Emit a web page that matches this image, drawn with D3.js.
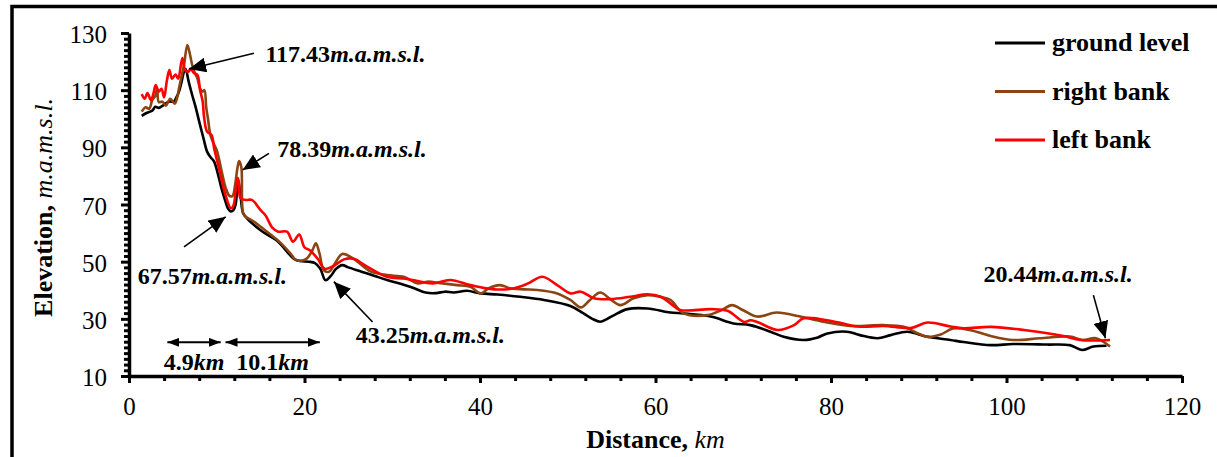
<!DOCTYPE html>
<html><head><meta charset="utf-8">
<script src="https://cdn.jsdelivr.net/npm/d3@7"></script>
<style>
body{margin:0;background:#fff}
svg{display:block}
text{font-family:"Liberation Serif","Times New Roman",serif;fill:#000}
</style>
</head><body>
<svg id="chart" width="1217" height="457"></svg>
<script>
// ---------------- data ----------------
const groundKm   = [1.45,2.0,2.4,2.7,3.0,3.4,3.8,4.2,4.6,5.1,5.4,5.7,6.0,6.27,6.45,6.8,7.2,7.6,8.0,8.5,8.9,9.3,9.7,10.25,10.6,11.0,11.3,11.6,11.9,12.15,12.45,12.75,13.0,13.5,14.0,15.0,16.0,17.0,18.0,18.8,19.5,20.5,21.2,21.8,22.4,23.0,23.6,24.3,25.0,26.5,28.0,29.5,31.3,32.5,33.8,35,36,37,38.5,40.1,42,44.6,47.3,50.3,51.8,52.8,53.7,54.5,55.3,56.8,59.1,61.7,63.2,66.3,68.9,70.8,73.1,74.6,76.9,78.5,79.6,81.8,83.3,85.3,86.8,88.7,91,93.6,95.1,98.2,100.8,104.6,107.2,108.6,109.9,111.4];
const groundElev = [101,102,102.5,103,104.2,103.8,104.5,105.4,106,106,107.5,109.5,113,116.5,117.4,113,108.3,104,99,93,88.5,86.5,85,79.2,75,71,68.5,67.6,68,70,78.4,72,67,65,63.5,61,59,57,53.5,51,50.2,50,49.5,47.5,43.5,45,47.5,48.8,48,46.5,45,43.5,41.9,40.7,39.2,39,39.5,39.2,39.8,38.9,38.5,37.7,36.6,34.5,31.9,30,29.0,30,31.3,33.4,33.6,32.2,31.9,30.8,28.4,27.8,25.5,23.7,22.6,23.5,24.9,25.5,24.3,23.2,24.3,25.5,23.7,22.6,21.9,20.8,21.2,21,20.8,19.1,20.3,20.6];

const rightKm    = [1.45,1.9,2.3,2.66,3.0,3.2,3.4,3.8,4.2,4.7,5.2,5.5,5.7,6.0,6.27,6.65,6.95,7.2,7.5,7.8,8.1,8.4,8.6,8.8,9.0,9.3,9.7,10.0,10.25,10.6,11.0,11.45,11.8,12.1,12.35,12.55,12.8,13.0,13.3,14.0,15.5,17.3,18.5,19.0,19.6,20.3,20.9,21.3,21.7,22.2,22.8,23.5,24.3,25.6,27.5,29.4,31.3,32.9,34,35.5,37.4,38.9,40.1,41,42.3,43.4,45,46.5,48.8,50.3,51.5,52.5,53.7,54.8,56,57.5,59.1,60.5,61.7,63.2,65.9,67.5,68.7,70,71.6,73.8,76.5,79.1,82.2,86,88.3,89.5,91,92.5,93.9,95.8,98.2,100.8,103.8,107.2,108.7,110.2,111.8];
const rightElev  = [102.5,104,103.5,106.6,108,110.5,105.8,106,104.6,107,105.3,107.5,110.7,115,118.8,125.8,122.5,118.8,116,114.1,110.5,109.5,110,104,100,94,91,89,86,81,76,73,73,77,82.6,85.2,83,67,65.7,64.5,61,56.5,52.5,50.6,50.3,51.2,54,56.4,53,47,46.5,49.5,52.7,51,46.6,45.3,44.7,42.4,43,42.5,41.8,41.2,38.9,40.7,41.8,40.7,40.3,40.1,38.9,36.6,34,36.5,39.2,37,34.8,37.2,38.3,37.7,36.6,31.9,31.3,33,34.8,33,30.8,32.2,30.8,29,27.5,27.8,27.2,25.5,23.7,24.5,26.6,26.1,24,22.6,23.2,23.8,22.6,23.2,20.3];

const leftKm     = [1.45,1.8,2.1,2.5,2.8,3.04,3.4,3.7,4.0,4.3,4.6,4.9,5.3,5.6,6.08,6.4,6.8,7.0,7.4,7.8,8.1,8.4,8.55,8.9,9.4,9.7,10.25,10.6,11.0,11.6,11.9,12.2,12.4,12.55,12.7,13.3,14.0,15.0,15.6,16.3,17,18,18.7,19.4,20,20.6,21.5,22.3,23.3,24.5,25.6,27.0,29.4,31.3,32.5,34.6,36.6,38.9,41.6,43.9,45.5,47.1,48.8,50.3,51.5,53,54.9,57.1,59.1,60.6,61.7,62.8,66.3,68.2,70.1,70.8,71.6,73.9,75.8,76.9,80.4,83.1,86,89.1,91,93.6,95.1,98.2,102,106.5,108.4,111.8];
const leftElev   = [108.6,107,109,106.5,109,111.8,109.5,110.5,107.5,113,117,114,115.5,114,121.2,117,116.5,117.6,116,115.3,110,106,100.7,95.5,94.3,89.7,82.7,78,73.3,68.7,69.6,76,79.3,77,72.2,71.6,71.6,68,66,62,60.5,60.5,57,59.5,55,54,51,47.5,48.5,50.8,51,48.5,44.7,44.1,43.5,42.4,43.6,41.8,40.3,40.7,42.4,44.7,41.8,38.9,39.5,37.2,36.9,37.7,38.6,37.7,35.4,33.1,33.4,32.8,28.9,29.5,28.9,26.1,27.8,30.2,29,27.3,27.5,26.8,28.7,27.3,26.7,27.2,26.1,24,22.6,22.6];

const seriesNames  = ["ground level","right bank","left bank"];
const seriesColors = ["#000000","#8B4513","#FF0000"];

const xMajorTicks = [0,20,40,60,80,100,120];
const yMajorTicks = [10,30,50,70,90,110,130];

// annotation values (data coordinates: km, m)
const annValues = ["117.43","78.39","67.57","43.25","20.44"];
const annTips   = [[6.84,117.4],[12.95,82.1],[11.02,65.7],[23.35,43.0],[111.27,23.2]];
const annTails  = [[14.24,122.9],[15.95,87.9],[6.27,55.2],[27.76,28.9],[109.9,38.3]];
const annText   = [[15.55,119.9],[16.9,86.6],[0.99,42.2],[25.83,21.5],[97.37,43.0]];
const annUnit   = "m.a.m.s.l.";

const spanLabels = ["4.9","10.1"];
const spanFrom   = [4.37,11.0];
const spanTo     = [10.45,21.75];
const spanArrowY = 21.8;
const spanTextY  = 12.1;

// ---------------- drawing ----------------
const svg = d3.select("#chart");
const x = d3.scaleLinear().domain([0,120]).range([129,1182]);
const y = d3.scaleLinear().domain([10,130]).range([376,33]);

// outer frame
svg.append("rect").attr("x",12).attr("y",6.5).attr("width",3000).attr("height",3000)
  .attr("fill","none").attr("stroke","#000").attr("stroke-width",3.5);

const defs = svg.append("defs");
defs.append("marker").attr("id","ah").attr("markerUnits","userSpaceOnUse")
  .attr("markerWidth",18).attr("markerHeight",15).attr("refX",17).attr("refY",7.5)
  .attr("orient","auto")
  .append("path").attr("d","M0,0 L17,7.5 L0,15 Z").attr("fill","#000");
defs.append("marker").attr("id","sh").attr("markerUnits","userSpaceOnUse")
  .attr("markerWidth",13).attr("markerHeight",9).attr("refX",12).attr("refY",4.5)
  .attr("orient","auto-start-reverse")
  .append("path").attr("d","M0,0 L12,4.5 L0,9 Z").attr("fill","#000");

// axes
const xMinor = d3.range(0,121,4).filter(v=>v%20!==0);
const yMinor = d3.range(10,131,2).filter(v=>(v-10)%20!==0);

function styleAxis(g){
  g.select(".domain").attr("stroke-width",3.5);
  g.selectAll(".tick line").attr("stroke-width",3);
  g.selectAll("text").attr("font-size",25).attr("fill","#000");
}
svg.append("g").attr("transform","translate(0,376)")
  .call(d3.axisBottom(x).tickValues(xMinor).tickSize(5).tickSizeOuter(0).tickFormat(""))
  .call(g=>{g.select(".domain").remove();g.selectAll(".tick line").attr("stroke-width",3);});
svg.append("g").attr("transform","translate(129,0)")
  .call(d3.axisLeft(y).tickValues(yMinor).tickSize(5).tickSizeOuter(0).tickFormat(""))
  .call(g=>{g.select(".domain").remove();g.selectAll(".tick line").attr("stroke-width",3);});
svg.append("g").attr("transform","translate(0,376)")
  .call(d3.axisBottom(x).tickValues(xMajorTicks).tickSize(7).tickSizeOuter(0).tickPadding(14).tickFormat(d3.format("d")))
  .call(styleAxis);
svg.append("g").attr("transform","translate(129,0)")
  .call(d3.axisLeft(y).tickValues(yMajorTicks).tickSize(8).tickSizeOuter(0).tickPadding(14).tickFormat(d3.format("d")))
  .call(styleAxis)
  .call(g=>g.selectAll("text").attr("dy","0.38em"));

// axis titles
const xt = svg.append("text").attr("x",(x(0)+x(120))/2).attr("y",448).attr("text-anchor","middle").attr("font-size",26);
xt.append("tspan").attr("font-weight","bold").text("Distance, ");
xt.append("tspan").attr("font-style","italic").text("km");
const yt = svg.append("text").attr("transform",`translate(52,${(y(10)+y(130))/2+3}) rotate(-90)`).attr("text-anchor","middle").attr("font-size",26);
yt.append("tspan").attr("font-weight","bold").text("Elevation, ");
yt.append("tspan").attr("font-style","italic").text("m.a.m.s.l.");

// series
const series = [
  {km:groundKm, v:groundElev},
  {km:rightKm, v:rightElev},
  {km:leftKm, v:leftElev}
];
const line = d3.line().x(d=>x(d[0])).y(d=>y(d[1])).curve(d3.curveCatmullRom.alpha(0.5));
series.forEach((s,i)=>{
  const pts = s.km.map((k,j)=>[k,s.v[j]]);
  svg.append("path").datum(pts).attr("d",line).attr("fill","none")
    .attr("stroke",seriesColors[i]).attr("stroke-width",2.6).attr("stroke-linejoin","round");
});

// annotations
annValues.forEach((val,i)=>{
  svg.append("line")
    .attr("x1",x(annTails[i][0])).attr("y1",y(annTails[i][1]))
    .attr("x2",x(annTips[i][0])).attr("y2",y(annTips[i][1]))
    .attr("stroke","#000").attr("stroke-width",1.6).attr("marker-end","url(#ah)");
  const t = svg.append("text").attr("x",x(annText[i][0])).attr("y",y(annText[i][1]))
    .attr("font-size",24).attr("font-weight","bold");
  t.append("tspan").text(val);
  t.append("tspan").attr("font-style","italic").text(annUnit);
});

spanLabels.forEach((lab,i)=>{
  svg.append("line")
    .attr("x1",x(spanFrom[i])).attr("x2",x(spanTo[i]))
    .attr("y1",y(spanArrowY)).attr("y2",y(spanArrowY))
    .attr("stroke","#000").attr("stroke-width",2)
    .attr("marker-start","url(#sh)").attr("marker-end","url(#sh)");
  const t = svg.append("text").attr("x",(x(spanFrom[i])+x(spanTo[i]))/2).attr("y",y(spanTextY))
    .attr("text-anchor","middle").attr("font-size",24).attr("font-weight","bold");
  t.append("tspan").text(lab);
  t.append("tspan").attr("font-style","italic").text("km");
});

// legend
const lg = svg.append("g");
seriesNames.forEach((n,i)=>{
  const yy = 43 + i*48.5;
  lg.append("line").attr("x1",995).attr("x2",1045).attr("y1",yy).attr("y2",yy)
    .attr("stroke",seriesColors[i]).attr("stroke-width",3);
  lg.append("text").attr("x",1052).attr("y",yy+8).attr("font-size",26).attr("font-weight","bold").text(n);
});
</script>
</body></html>
